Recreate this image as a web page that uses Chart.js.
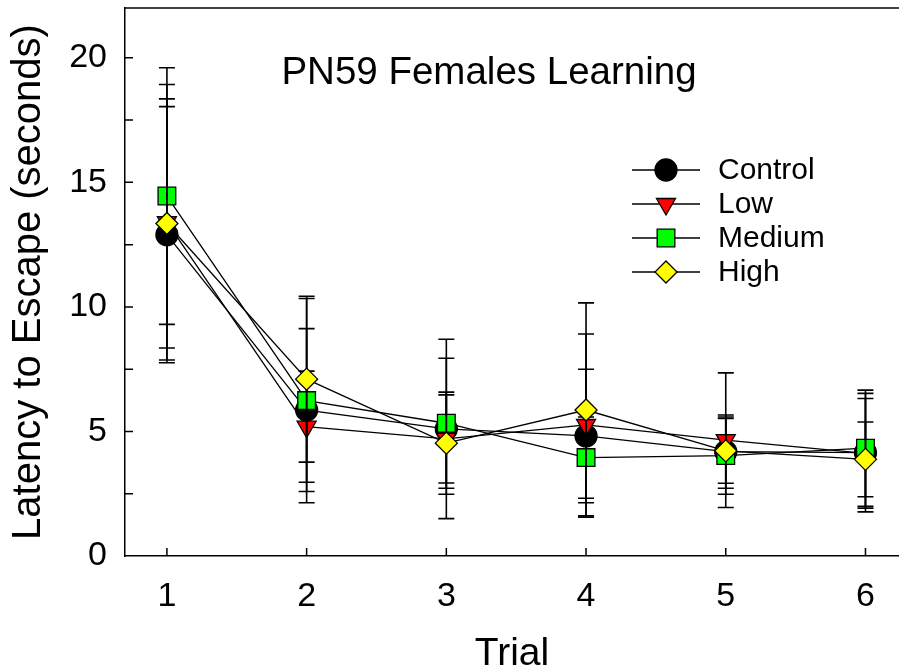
<!DOCTYPE html>
<html>
<head>
<meta charset="utf-8">
<script src="https://cdn.jsdelivr.net/npm/chart.js@4/dist/chart.umd.min.js"></script>
<style>
  body { margin: 0; background: #fff; }
  canvas { display: block; }
</style>
</head>
<body>
<canvas id="myChart" width="899" height="671"></canvas>
<script>
const trials = [1, 2, 3, 4, 5, 6];
const seriesNames = ["Control", "Low", "Medium", "High"];
const controlMean = [12.9, 5.86, 5.1, 4.82, 4.19, 4.15];
const controlErr = [5.14, 3.27, 3.6, 2.68, 1.47, 2.38];
const lowMean = [13.4, 5.19, 4.7, 5.26, 4.65, 4.12];
const lowErr = [5.53, 2.23, 1.77, 3.65, 2.7, 2.2];
const mediumMean = [14.45, 6.24, 5.33, 3.95, 4.03, 4.33];
const mediumErr = [5.15, 4.1, 2.61, 1.63, 1.55, 2.33];
const highMean = [13.35, 7.1, 4.53, 5.86, 4.22, 3.88];
const highErr = [5.0, 3.33, 2.05, 4.3, 1.3, 1.5];
const xTickValues = [1, 2, 3, 4, 5, 6];
const yTickValues = [0, 5, 10, 15, 20];
const yMinorTicks = [2.5, 5, 7.5, 10, 12.5, 15, 17.5, 20];
const chartTitle = "PN59 Females Learning";

const FONT = "'Liberation Sans', Arial, sans-serif";

function makeSet(label, mean, err, style, color, rotation, order, barsOnTop) {
  return {
    label: label,
    data: trials.map((t, i) => ({ x: t, y: mean[i] })),
    errors: err,
    barsOnTop: barsOnTop,
    borderColor: "#000",
    borderWidth: 1.3,
    backgroundColor: color,
    pointStyle: style,
    pointRotation: rotation,
    pointRadius: style === "rect" ? 12.5 : 11,
    pointBorderColor: "#000",
    pointBorderWidth: 1.3,
    pointBackgroundColor: color,
    order: order,
    showLine: true,
    fill: false,
    tension: 0,
  };
}

const datasets = [
  makeSet(seriesNames[0], controlMean, controlErr, "circle", "#000000", 0, 4, true),
  makeSet(seriesNames[1], lowMean, lowErr, "triangle", "#ff0000", 180, 3, true),
  makeSet(seriesNames[2], mediumMean, mediumErr, "rect", "#00ff00", 0, 2, true),
  makeSet(seriesNames[3], highMean, highErr, "rectRot", "#ffff00", 0, 1, false),
];

function drawErrorBars(chart, index) {
  const ds = chart.data.datasets[index];
  const xs = chart.scales.x;
  const ys = chart.scales.y;
  const ctx = chart.ctx;
  ctx.save();
  ctx.strokeStyle = "#000";
  ctx.lineWidth = 1.6;
  ds.data.forEach((p, i) => {
    const e = ds.errors[i];
    const px = xs.getPixelForValue(p.x);
    const top = ys.getPixelForValue(p.y + e);
    const bot = ys.getPixelForValue(p.y - e);
    ctx.beginPath();
    ctx.moveTo(px, top);
    ctx.lineTo(px, bot);
    ctx.moveTo(px - 8, top);
    ctx.lineTo(px + 8, top);
    ctx.moveTo(px - 8, bot);
    ctx.lineTo(px + 8, bot);
    ctx.stroke();
  });
  ctx.restore();
}

function drawMarker(ctx, style, x, y, r, rotation) {
  ctx.beginPath();
  if (style === "circle") {
    ctx.arc(x, y, r, 0, Math.PI * 2);
  } else if (style === "rect") {
    const s = Math.SQRT1_2 * r;
    ctx.rect(x - s, y - s, 2 * s, 2 * s);
  } else if (style === "rectRot") {
    ctx.moveTo(x, y - r);
    ctx.lineTo(x + r, y);
    ctx.lineTo(x, y + r);
    ctx.lineTo(x - r, y);
    ctx.closePath();
  } else if (style === "triangle") {
    let rad = rotation * Math.PI / 180;
    ctx.moveTo(x + Math.sin(rad) * r, y - Math.cos(rad) * r);
    rad += 2 * Math.PI / 3;
    ctx.lineTo(x + Math.sin(rad) * r, y - Math.cos(rad) * r);
    rad += 2 * Math.PI / 3;
    ctx.lineTo(x + Math.sin(rad) * r, y - Math.cos(rad) * r);
    ctx.closePath();
  }
  ctx.fill();
  ctx.stroke();
}

const extrasPlugin = {
  id: "extras",
  beforeDatasetDraw(chart, args) {
    const ds = chart.data.datasets[args.index];
    if (!ds.barsOnTop) drawErrorBars(chart, args.index);
  },
  afterDatasetDraw(chart, args) {
    const ds = chart.data.datasets[args.index];
    if (ds.barsOnTop) drawErrorBars(chart, args.index);
  },
  afterDraw(chart) {
    const ctx = chart.ctx;
    const area = chart.chartArea;
    const xs = chart.scales.x;
    const ys = chart.scales.y;
    ctx.save();
    ctx.strokeStyle = "#000";
    ctx.lineWidth = 1.5;
    // top frame line
    ctx.beginPath();
    ctx.moveTo(area.left, area.top);
    ctx.lineTo(chart.width, area.top);
    ctx.stroke();
    // inward ticks
    ctx.beginPath();
    xTickValues.forEach((v) => {
      const px = xs.getPixelForValue(v);
      ctx.moveTo(px, area.bottom);
      ctx.lineTo(px, area.bottom - 8);
    });
    yMinorTicks.forEach((v) => {
      const py = ys.getPixelForValue(v);
      ctx.moveTo(area.left, py);
      ctx.lineTo(area.left + 8, py);
    });
    ctx.stroke();

    // title inside the plot
    ctx.fillStyle = "#000";
    ctx.font = "38.5px " + FONT;
    ctx.textAlign = "center";
    ctx.textBaseline = "middle";
    ctx.fillText(chartTitle, 489, 73);

    // legend
    const rows = [170, 204, 238, 272];
    ctx.font = "30px " + FONT;
    ctx.textAlign = "left";
    chart.data.datasets.forEach((ds, i) => {
      const y = rows[i];
      ctx.strokeStyle = "#000";
      ctx.lineWidth = 1.3;
      ctx.beginPath();
      ctx.moveTo(632, y);
      ctx.lineTo(700, y);
      ctx.stroke();
      ctx.fillStyle = ds.pointBackgroundColor;
      drawMarker(ctx, ds.pointStyle, 666, y, ds.pointRadius, ds.pointRotation);
      ctx.fillStyle = "#000";
      ctx.fillText(ds.label, 718, y + 1);
    });
    ctx.restore();
  },
};

const ctx = document.getElementById("myChart").getContext("2d");
const myChart = new Chart(ctx, {
  type: "line",
  data: { datasets: datasets },
  plugins: [extrasPlugin],
  options: {
    responsive: false,
    animation: false,
    layout: { autoPadding: false, padding: { top: 8, right: 0, bottom: 0, left: 0 } },
    plugins: {
      legend: { display: false },
      tooltip: { enabled: false },
    },
    scales: {
      x: {
        type: "linear",
        min: 0.7,
        max: 6.24,
        afterBuildTicks: (scale) => {
          scale.ticks = xTickValues.map((v) => ({ value: v }));
        },
        afterFit: (scale) => {
          scale.height = 115;
          scale.paddingLeft = 0;
          scale.paddingRight = 0;
        },
        grid: { display: false, drawTicks: false },
        border: { display: true, color: "#000", width: 1.5 },
        ticks: {
          color: "#000",
          font: { family: FONT, size: 34 },
          padding: 20,
          maxRotation: 0,
        },
        title: {
          display: true,
          text: "Trial",
          color: "#000",
          font: { family: FONT, size: 39 },
          padding: { top: 0, bottom: -7 },
        },
      },
      y: {
        type: "linear",
        min: 0,
        max: 22,
        afterBuildTicks: (scale) => {
          scale.ticks = yTickValues.map((v) => ({ value: v }));
        },
        afterFit: (scale) => {
          scale.width = 125;
          scale.paddingTop = 0;
          scale.paddingBottom = 0;
        },
        grid: { display: false, drawTicks: false },
        border: { display: true, color: "#000", width: 1.5 },
        ticks: {
          color: "#000",
          font: { family: FONT, size: 34 },
          padding: 18,
        },
        title: {
          display: true,
          text: "Latency to Escape (seconds)",
          color: "#000",
          font: { family: FONT, size: 40 },
          padding: { top: 5, bottom: 0 },
        },
      },
    },
  },
});
</script>
</body>
</html>
